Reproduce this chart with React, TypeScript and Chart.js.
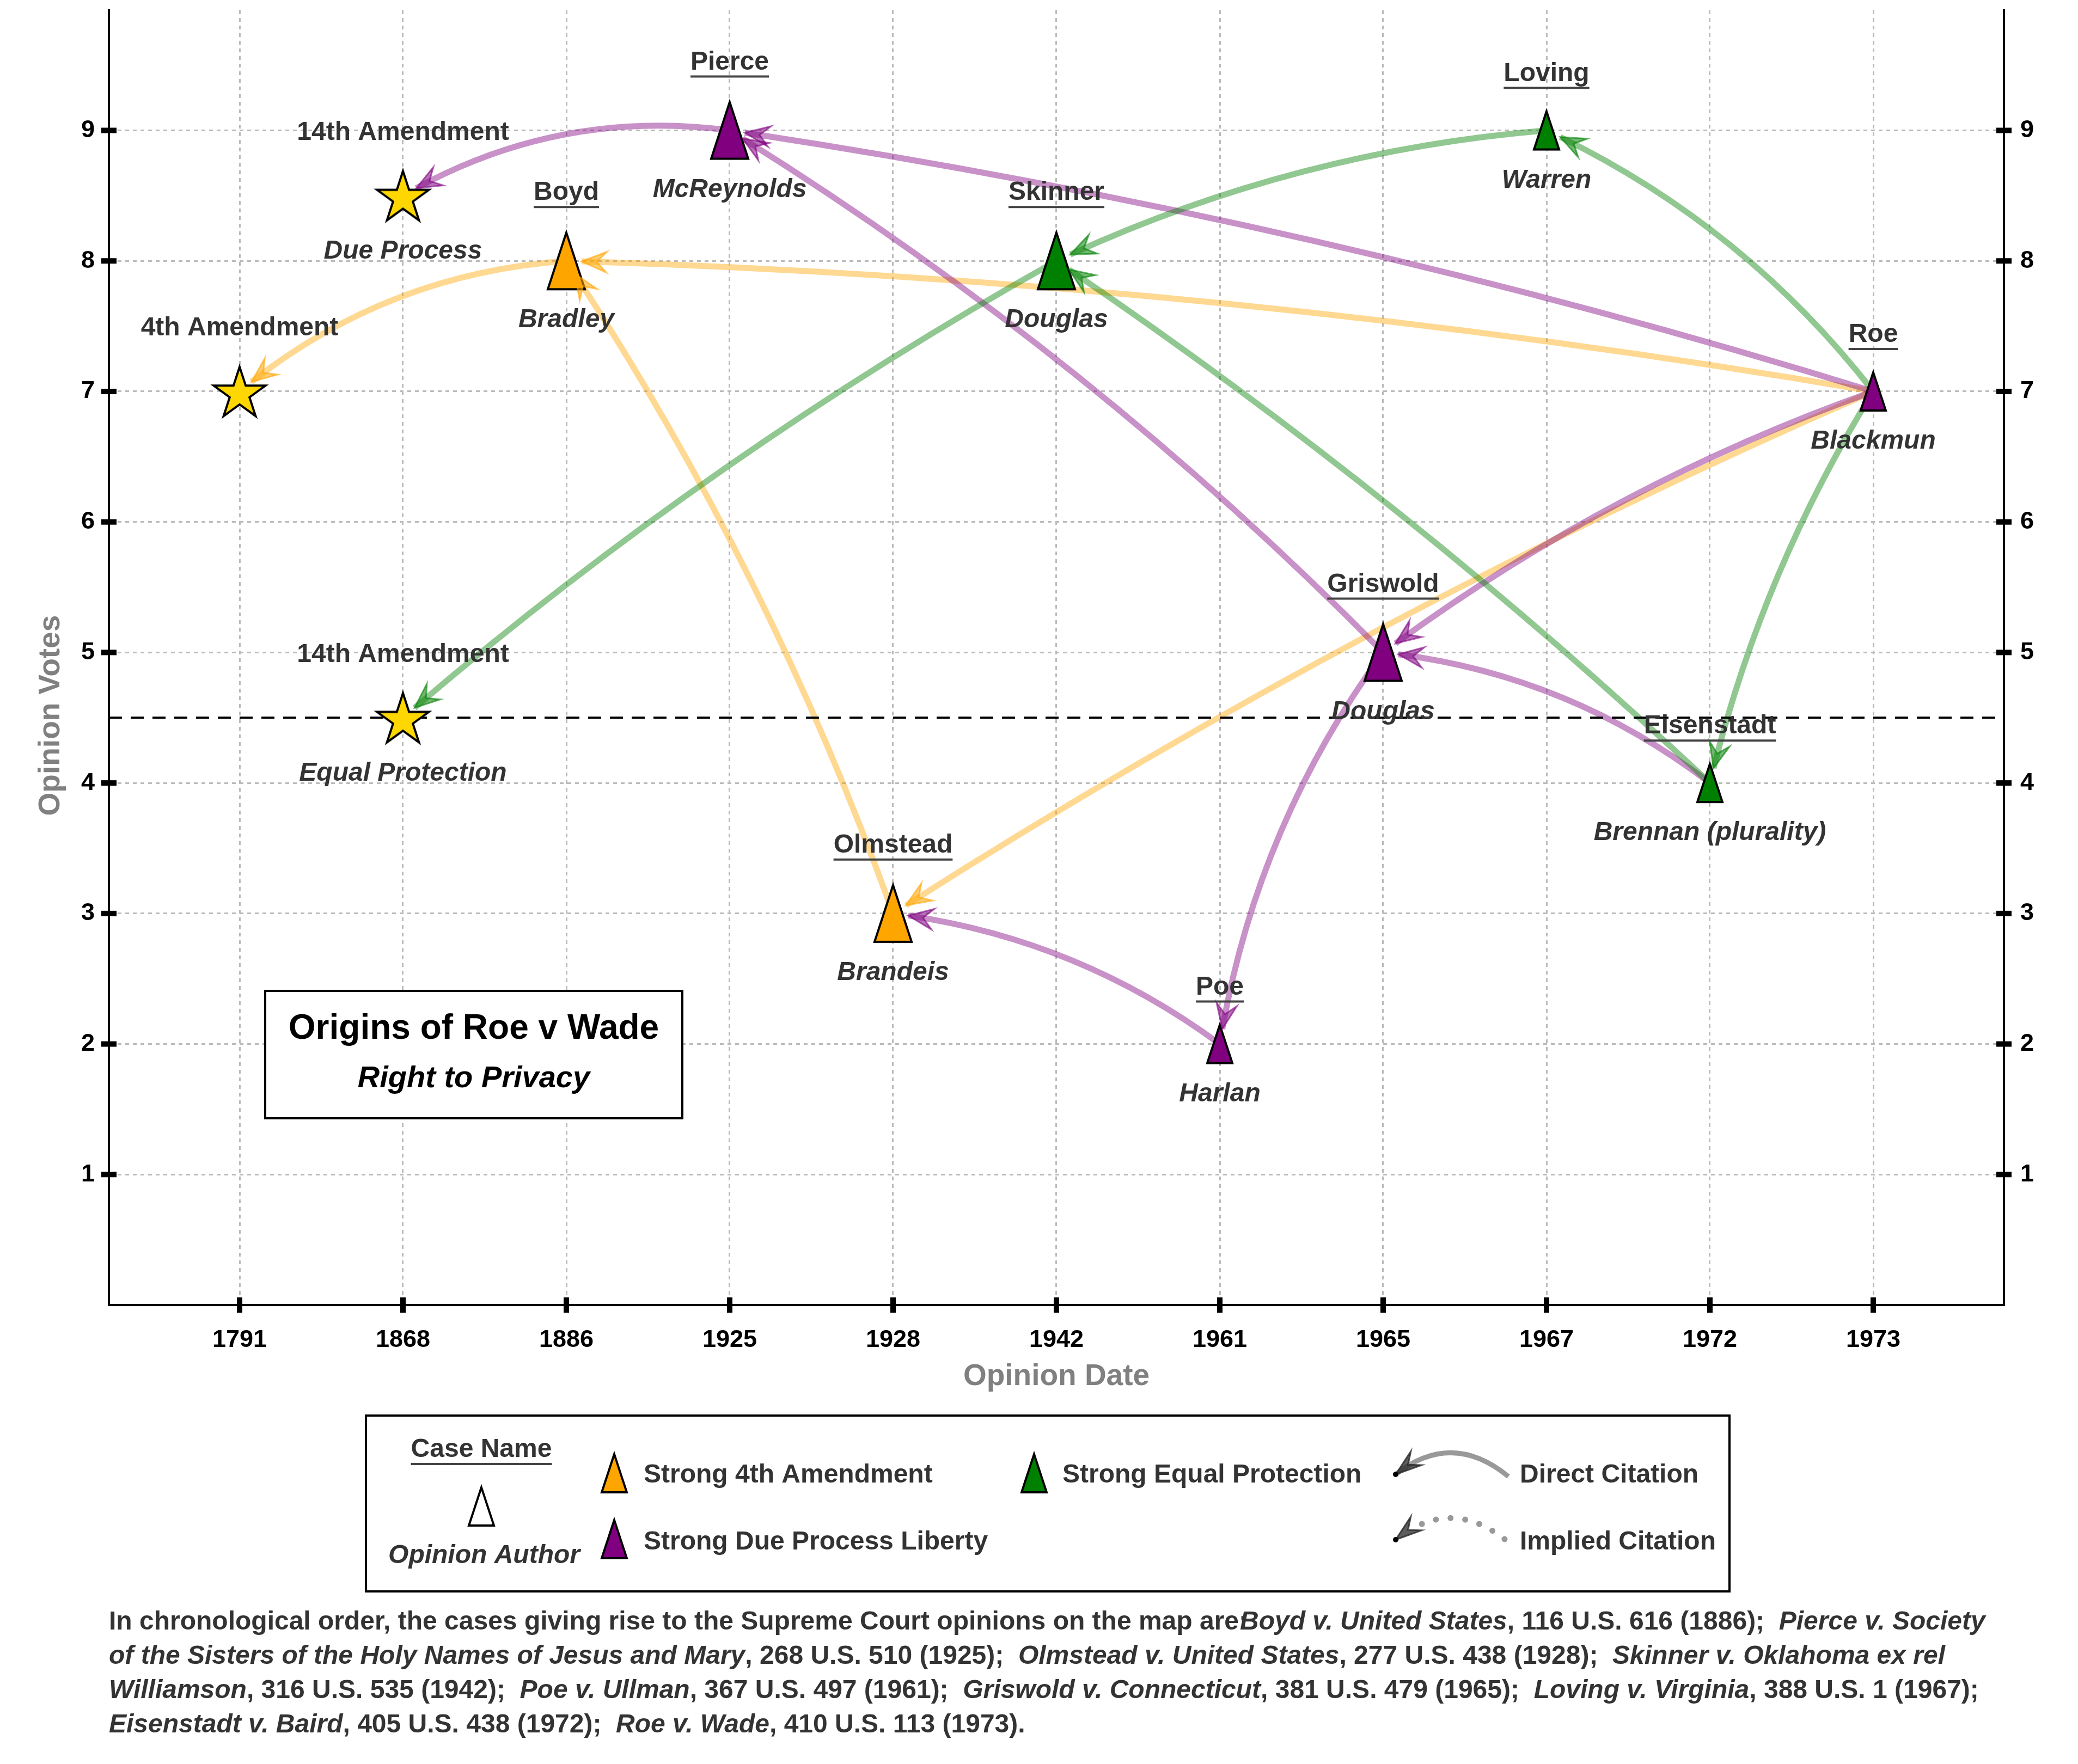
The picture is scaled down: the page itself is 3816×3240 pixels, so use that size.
import React, { useEffect, useRef } from 'react';
import { Chart, registerables } from 'chart.js';

Chart.register(...registerables);

const FONT = '"Liberation Sans", Arial, Helvetica, sans-serif';
const W = 3816;
const H = 3240;

// ---------------- data ----------------
const YEARS = ['1791', '1868', '1886', '1925', '1928', '1942', '1961', '1965', '1967', '1972', '1973'];
const VOTE_TICKS = [1, 2, 3, 4, 5, 6, 7, 8, 9];

const SOURCE_IDS = ['4A', '14A-DP', '14A-EP'];
const SOURCE_NAMES = ['4th Amendment', '14th Amendment', '14th Amendment'];
const SOURCE_CLAUSES = ['', 'Due Process', 'Equal Protection'];
const SOURCE_YEARS = ['1791', '1868', '1868'];
const SOURCE_VOTES = [7, 8.5, 4.5];

const CASE_NAMES = ['Boyd', 'Pierce', 'Olmstead', 'Skinner', 'Poe', 'Griswold', 'Loving', 'Eisenstadt', 'Roe'];
const CASE_YEARS = ['1886', '1925', '1928', '1942', '1961', '1965', '1967', '1972', '1973'];
const CASE_VOTES = [8, 9, 3, 8, 2, 5, 9, 4, 7];
const CASE_AUTHORS = ['Bradley', 'McReynolds', 'Brandeis', 'Douglas', 'Harlan', 'Douglas', 'Warren', 'Brennan (plurality)', 'Blackmun'];
const CASE_DOCTRINES = ['fourth', 'due', 'fourth', 'equal', 'due', 'due', 'equal', 'equal', 'due'];

const CITE_FROM = ['Roe', 'Boyd', 'Olmstead', 'Roe', 'Pierce', 'Roe', 'Griswold', 'Roe', 'Eisenstadt', 'Griswold', 'Poe', 'Skinner', 'Loving', 'Roe', 'Eisenstadt', 'Roe'];
const CITE_TO = ['Boyd', '4A', 'Boyd', 'Olmstead', '14A-DP', 'Pierce', 'Pierce', 'Griswold', 'Griswold', 'Poe', 'Olmstead', '14A-EP', 'Skinner', 'Loving', 'Skinner', 'Eisenstadt'];
const CITE_DOCTRINES = ['fourth', 'fourth', 'fourth', 'fourth', 'due', 'due', 'due', 'due', 'due', 'due', 'due', 'equal', 'equal', 'equal', 'equal', 'equal'];

const MAJORITY_LINE = 4.5;

const TITLE_TEXT = 'Origins of Roe v Wade';
const SUBTITLE_TEXT = 'Right to Privacy';
const X_TITLE = 'Opinion Date';
const Y_TITLE = 'Opinion Votes';

const LEGEND_LABELS = ['Case Name', 'Opinion Author', 'Strong 4th Amendment', 'Strong Due Process Liberty', 'Strong Equal Protection', 'Direct Citation', 'Implied Citation'];

const FOOTNOTE_LINES: [string, boolean][][] = [
  [
    ['In chronological order, the cases giving rise to the Supreme Court opinions on the map are:', false],
    ['Boyd v. United States', true],
    [', 116 U.S. 616 (1886);  ', false],
    ['Pierce v. Society', true],
  ],
  [
    ['of the Sisters of the Holy Names of Jesus and Mary', true],
    [', 268 U.S. 510 (1925);  ', false],
    ['Olmstead v. United States', true],
    [', 277 U.S. 438 (1928);  ', false],
    ['Skinner v. Oklahoma ex rel', true],
  ],
  [
    ['Williamson', true],
    [', 316 U.S. 535 (1942);  ', false],
    ['Poe v. Ullman', true],
    [', 367 U.S. 497 (1961);  ', false],
    ['Griswold v. Connecticut', true],
    [', 381 U.S. 479 (1965);  ', false],
    ['Loving v. Virginia', true],
    [', 388 U.S. 1 (1967);', false],
  ],
  [
    ['Eisenstadt v. Baird', true],
    [', 405 U.S. 438 (1972);  ', false],
    ['Roe v. Wade', true],
    [', 410 U.S. 113 (1973).', false],
  ],
];

// ---------------- styles ----------------
const X_MIN = -0.8;
const X_MAX = 10.8;
const Y_MIN = 0;
const Y_MAX = 9.92;
const CITE_BEND = [-0.035, -0.16, -0.06, -0.04, -0.17, -0.038, -0.06, -0.075, -0.14, -0.12, -0.13, -0.05, -0.09, -0.12, -0.04, -0.08];
const LARGE_MARKERS = ['Boyd', 'Pierce', 'Olmstead', 'Skinner', 'Griswold'];
const COLORS: Record<string, number[]> = { fourth: [255, 165, 0], due: [128, 0, 128], equal: [0, 128, 0] };
const TEXT_COLOR = '#333333';
const GRID_COLOR = '#bbbbbb';
const FOOTNOTE_FIRST_KERN = -14;

function rgba(c: number[], a: number) {
  return `rgba(${c[0]},${c[1]},${c[2]},${a})`;
}
function hex(c: number[]) {
  return rgba(c, 1);
}

function makeTriangle(fill: string, w: number, h: number) {
  const pad = 9;
  const c = document.createElement('canvas');
  c.width = Math.ceil(w + 2 * pad);
  c.height = Math.ceil(h + 2 * pad);
  const ctx = c.getContext('2d')!;
  const cx = c.width / 2;
  ctx.beginPath();
  ctx.moveTo(cx, pad);
  ctx.lineTo(cx + w / 2, pad + h);
  ctx.lineTo(cx - w / 2, pad + h);
  ctx.closePath();
  ctx.fillStyle = fill;
  ctx.fill();
  ctx.lineWidth = 4;
  ctx.lineJoin = 'miter';
  ctx.strokeStyle = '#000';
  ctx.stroke();
  return c;
}

function makeStar(fill: string, R: number) {
  const pad = 12;
  const size = Math.ceil(2 * R + 2 * pad);
  const c = document.createElement('canvas');
  c.width = size;
  c.height = size;
  const ctx = c.getContext('2d')!;
  const r = R * 0.381966;
  const cx = size / 2;
  const cy = size / 2 + 0.0955 * R;
  ctx.beginPath();
  for (let k = 0; k < 10; k++) {
    const ang = -Math.PI / 2 + (k * Math.PI) / 5;
    const rr = k % 2 === 0 ? R : r;
    const x = cx + rr * Math.cos(ang);
    const y = cy + rr * Math.sin(ang);
    if (k === 0) ctx.moveTo(x, y);
    else ctx.lineTo(x, y);
  }
  ctx.closePath();
  ctx.fillStyle = fill;
  ctx.fill();
  ctx.lineWidth = 4;
  ctx.lineJoin = 'miter';
  ctx.strokeStyle = '#000';
  ctx.stroke();
  return c;
}

type Pt = { x: number; y: number };

function nodeValue(id: string) {
  const i = CASE_NAMES.indexOf(id);
  if (i >= 0) return { xi: YEARS.indexOf(CASE_YEARS[i]), v: CASE_VOTES[i] };
  const j = SOURCE_IDS.indexOf(id);
  return { xi: YEARS.indexOf(SOURCE_YEARS[j]), v: SOURCE_VOTES[j] };
}

function nodePixel(chart: any, id: string): Pt {
  const n = nodeValue(id);
  return { x: chart.scales.x.getPixelForValue(n.xi), y: chart.scales.y.getPixelForValue(n.v) };
}

function quad(p0: Pt, c: Pt, p2: Pt, t: number): Pt {
  const m = 1 - t;
  return { x: m * m * p0.x + 2 * m * t * c.x + t * t * p2.x, y: m * m * p0.y + 2 * m * t * c.y + t * t * p2.y };
}

function citationGeom(p0: Pt, p2: Pt, bend: number, shrink: number) {
  const dx = p2.x - p0.x;
  const dy = p2.y - p0.y;
  const c = { x: (p0.x + p2.x) / 2 + bend * dy, y: (p0.y + p2.y) / 2 - bend * dx };
  let lo = 0;
  let hi = 1;
  for (let k = 0; k < 40; k++) {
    const m = (lo + hi) / 2;
    const q = quad(p0, c, p2, m);
    if (Math.hypot(q.x - p2.x, q.y - p2.y) > shrink) lo = m;
    else hi = m;
  }
  const t = lo;
  const q1 = { x: p0.x + t * (c.x - p0.x), y: p0.y + t * (c.y - p0.y) };
  const tip = quad(p0, c, p2, t);
  const tx = 2 * (1 - t) * (c.x - p0.x) + 2 * t * (p2.x - c.x);
  const ty = 2 * (1 - t) * (c.y - p0.y) + 2 * t * (p2.y - c.y);
  const len = Math.hypot(tx, ty) || 1;
  return { c, q1, tip, ux: tx / len, uy: ty / len };
}

function drawHead(ctx: CanvasRenderingContext2D, tip: Pt, ux: number, uy: number, fill: string, stroke: string, L: number, Wd: number) {
  const nx = -uy;
  const ny = ux;
  const bx = tip.x - ux * L;
  const by = tip.y - uy * L;
  const kx = tip.x - ux * L * 0.6;
  const ky = tip.y - uy * L * 0.6;
  ctx.beginPath();
  ctx.moveTo(tip.x, tip.y);
  ctx.lineTo(bx + nx * Wd, by + ny * Wd);
  ctx.lineTo(kx, ky);
  ctx.lineTo(bx - nx * Wd, by - ny * Wd);
  ctx.closePath();
  ctx.fillStyle = fill;
  ctx.fill();
  ctx.lineWidth = 3;
  ctx.lineJoin = 'miter';
  ctx.strokeStyle = stroke;
  ctx.stroke();
}

function underlinedText(ctx: CanvasRenderingContext2D, text: string, x: number, y: number) {
  ctx.font = `bold 48px ${FONT}`;
  ctx.textAlign = 'center';
  ctx.textBaseline = 'middle';
  ctx.fillStyle = TEXT_COLOR;
  ctx.fillText(text, x, y);
  const w = ctx.measureText(text).width;
  ctx.beginPath();
  ctx.moveTo(x - w / 2, y + 26);
  ctx.lineTo(x + w / 2, y + 26);
  ctx.lineWidth = 4;
  ctx.strokeStyle = '#444';
  ctx.stroke();
}

function plainText(ctx: CanvasRenderingContext2D, text: string, x: number, y: number, italic: boolean, align: CanvasTextAlign = 'center', size = 48, color = TEXT_COLOR) {
  ctx.font = `${italic ? 'italic ' : ''}bold ${size}px ${FONT}`;
  ctx.textAlign = align;
  ctx.textBaseline = 'middle';
  ctx.fillStyle = color;
  ctx.fillText(text, x, y);
}

export default function App() {
  const ref = useRef<HTMLCanvasElement>(null);

  useEffect(() => {
    document.body.style.margin = '0';
    const canvas = ref.current!;

    const triBig: Record<string, HTMLCanvasElement> = {};
    const triSmall: Record<string, HTMLCanvasElement> = {};
    Object.keys(COLORS).forEach((k) => {
      triBig[k] = makeTriangle(hex(COLORS[k]), 68, 104);
      triSmall[k] = makeTriangle(hex(COLORS[k]), 46, 70);
    });
    const triWhite = makeTriangle('#ffffff', 46, 70);
    const star = makeStar('#FFD700', 50);

    const caseData = CASE_NAMES.map((_, i) => ({ x: YEARS.indexOf(CASE_YEARS[i]), y: CASE_VOTES[i] }));
    const sourceData = SOURCE_IDS.map((_, i) => ({ x: YEARS.indexOf(SOURCE_YEARS[i]), y: SOURCE_VOTES[i] }));
    const caseStyles = CASE_NAMES.map((n, i) => (LARGE_MARKERS.includes(n) ? triBig : triSmall)[CASE_DOCTRINES[i]]);

    const geomFor = (chart: any) =>
      CITE_FROM.map((f, i) => {
        const p0 = nodePixel(chart, f);
        const p2 = nodePixel(chart, CITE_TO[i]);
        return { p0, ...citationGeom(p0, p2, CITE_BEND[i], 28), color: COLORS[CITE_DOCTRINES[i]] };
      });

    const overlay = {
      id: 'overlay',
      beforeDatasetsDraw(chart: any) {
        const ctx: CanvasRenderingContext2D = chart.ctx;
        ctx.save();
        geomFor(chart).forEach((g) => {
          ctx.beginPath();
          ctx.moveTo(g.p0.x, g.p0.y);
          ctx.quadraticCurveTo(g.q1.x, g.q1.y, g.tip.x, g.tip.y);
          ctx.lineWidth = 11;
          ctx.lineCap = 'butt';
          ctx.strokeStyle = rgba(g.color, 0.43);
          ctx.stroke();
        });
        ctx.restore();
      },
      afterDatasetsDraw(chart: any) {
        const ctx: CanvasRenderingContext2D = chart.ctx;
        const xs = chart.scales.x;
        const ys = chart.scales.y;
        const ca = chart.chartArea;
        ctx.save();
        geomFor(chart).forEach((g) => {
          drawHead(ctx, g.tip, g.ux, g.uy, rgba(g.color, 0.55), rgba(g.color, 0.6), 46, 19);
        });

        // case labels
        CASE_NAMES.forEach((name, i) => {
          const px = xs.getPixelForValue(YEARS.indexOf(CASE_YEARS[i]));
          const py = ys.getPixelForValue(CASE_VOTES[i]);
          const big = LARGE_MARKERS.includes(name);
          underlinedText(ctx, name, px, py - (big ? 125 : 104));
          plainText(ctx, CASE_AUTHORS[i], px, py + (big ? 109 : 92), true);
        });
        // source labels
        SOURCE_IDS.forEach((_, i) => {
          const px = xs.getPixelForValue(YEARS.indexOf(SOURCE_YEARS[i]));
          const py = ys.getPixelForValue(SOURCE_VOTES[i]);
          plainText(ctx, SOURCE_NAMES[i], px, py - 116, false);
          if (SOURCE_CLAUSES[i]) plainText(ctx, SOURCE_CLAUSES[i], px, py + 102, true);
        });

        // title box
        const bx = ca.left + 287;
        const by = ca.top + 1801;
        const bw = 766;
        const bh = 234;
        ctx.fillStyle = '#fff';
        ctx.fillRect(bx, by, bw, bh);
        ctx.lineWidth = 4;
        ctx.strokeStyle = '#000';
        ctx.strokeRect(bx, by, bw, bh);
        plainText(ctx, TITLE_TEXT, bx + bw / 2, by + 70, false, 'center', 64, '#000');
        plainText(ctx, SUBTITLE_TEXT, bx + bw / 2, by + 162, true, 'center', 56, '#000');
        ctx.restore();
      },
      afterDraw(chart: any) {
        const ctx: CanvasRenderingContext2D = chart.ctx;
        const ca = chart.chartArea;
        const xs = chart.scales.x;
        const ys = chart.scales.y;
        ctx.save();
        // tick marks
        ctx.fillStyle = '#000';
        xs.ticks.forEach((t: any) => {
          const px = xs.getPixelForValue(t.value);
          ctx.fillRect(px - 5, ca.bottom - 14, 10, 28);
        });
        ys.ticks.forEach((t: any) => {
          const py = ys.getPixelForValue(t.value);
          ctx.fillRect(ca.left - 14, py - 5, 28, 10);
          ctx.fillRect(ca.right - 14, py - 5, 28, 10);
        });

        // y title
        ctx.save();
        ctx.translate(94, ca.top + 0.5446 * (ca.bottom - ca.top));
        ctx.rotate(-Math.PI / 2);
        plainText(ctx, Y_TITLE, 0, 0, false, 'center', 55, 'gray');
        ctx.restore();

        // legend
        const lx = 672;
        const ly = 2600;
        ctx.fillStyle = '#fff';
        ctx.fillRect(lx, ly, 2504, 323);
        ctx.lineWidth = 4;
        ctx.strokeStyle = '#000';
        ctx.strokeRect(lx, ly, 2504, 323);
        underlinedText(ctx, LEGEND_LABELS[0], 884, 2663);
        ctx.drawImage(triWhite, 884 - triWhite.width / 2, 2767 - triWhite.height / 2);
        plainText(ctx, LEGEND_LABELS[1], 889, 2858, true);
        ctx.drawImage(triSmall.fourth, 1128 - triSmall.fourth.width / 2, 2706 - triSmall.fourth.height / 2);
        plainText(ctx, LEGEND_LABELS[2], 1182, 2710, false, 'left');
        ctx.drawImage(triSmall.due, 1128 - triSmall.due.width / 2, 2827 - triSmall.due.height / 2);
        plainText(ctx, LEGEND_LABELS[3], 1182, 2833, false, 'left');
        ctx.drawImage(triSmall.equal, 1899 - triSmall.equal.width / 2, 2706 - triSmall.equal.height / 2);
        plainText(ctx, LEGEND_LABELS[4], 1951, 2710, false, 'left');

        // direct citation icon
        {
          const p0 = { x: 2770, y: 2712 };
          const p2 = { x: 2563, y: 2708 };
          const c = { x: 2666, y: 2627 };
          ctx.beginPath();
          ctx.moveTo(p0.x, p0.y);
          ctx.quadraticCurveTo(c.x, c.y, p2.x, p2.y);
          ctx.lineWidth = 9;
          ctx.strokeStyle = '#999';
          ctx.stroke();
          const ux = p2.x - c.x;
          const uy = p2.y - c.y;
          const l = Math.hypot(ux, uy);
          drawHead(ctx, p2, ux / l, uy / l, 'rgba(40,40,40,0.75)', 'rgba(40,40,40,0.8)', 48, 16);
          ctx.beginPath();
          ctx.arc(p2.x, p2.y, 5, 0, Math.PI * 2);
          ctx.fillStyle = '#000';
          ctx.fill();
        }
        plainText(ctx, LEGEND_LABELS[5], 2791, 2710, false, 'left');
        // implied citation icon
        {
          const p0 = { x: 2763, y: 2827 };
          const p2 = { x: 2563, y: 2828 };
          const c = { x: 2663, y: 2749 };
          const tEnd = 0.82;
          const q1 = { x: p0.x + tEnd * (c.x - p0.x), y: p0.y + tEnd * (c.y - p0.y) };
          const qe = quad(p0, c, p2, tEnd);
          ctx.beginPath();
          ctx.moveTo(p0.x, p0.y);
          ctx.quadraticCurveTo(q1.x, q1.y, qe.x, qe.y);
          ctx.lineWidth = 11;
          ctx.lineCap = 'round';
          ctx.setLineDash([0.1, 27]);
          ctx.strokeStyle = '#999';
          ctx.stroke();
          ctx.setLineDash([]);
          ctx.lineCap = 'butt';
          const ux = p2.x - c.x;
          const uy = p2.y - c.y;
          const l = Math.hypot(ux, uy);
          drawHead(ctx, p2, ux / l, uy / l, 'rgba(40,40,40,0.75)', 'rgba(40,40,40,0.8)', 48, 16);
          ctx.beginPath();
          ctx.arc(p2.x, p2.y, 5, 0, Math.PI * 2);
          ctx.fillStyle = '#000';
          ctx.fill();
        }
        plainText(ctx, LEGEND_LABELS[6], 2791, 2833, false, 'left');

        // footnote
        FOOTNOTE_LINES.forEach((line, li) => {
          let x = 200;
          const y = 2980 + li * 63;
          line.forEach(([txt, it], si) => {
            ctx.font = `${it ? 'italic ' : ''}bold 48px ${FONT}`;
            ctx.textAlign = 'left';
            ctx.textBaseline = 'middle';
            ctx.fillStyle = TEXT_COLOR;
            ctx.fillText(txt, x, y);
            x += ctx.measureText(txt).width;
            if (li === 0 && si === 0) x += FOOTNOTE_FIRST_KERN;
          });
        });
        ctx.restore();
      },
    };

    const tickFont = { family: FONT, size: 45, weight: 'bold' as const };

    const chart = new Chart(canvas, {
      type: 'scatter',
      data: {
        datasets: [
          {
            type: 'line',
            label: 'majority',
            data: [
              { x: X_MIN, y: MAJORITY_LINE },
              { x: X_MAX, y: MAJORITY_LINE },
            ],
            borderColor: '#000',
            borderWidth: 4,
            borderDash: [24, 16],
            pointRadius: 0,
            showLine: true,
            fill: false,
            order: 3,
          } as any,
          {
            label: 'cases',
            data: caseData,
            pointStyle: caseStyles as any,
            pointRadius: 30,
            order: 1,
          },
          {
            label: 'sources',
            data: sourceData,
            pointStyle: star as any,
            pointRadius: 30,
            order: 2,
          },
        ],
      },
      options: {
        responsive: false,
        animation: false,
        events: [],
        devicePixelRatio: 1,
        layout: { autoPadding: false, padding: { top: 19, left: 0, right: 0, bottom: 663 } },
        plugins: { legend: { display: false }, tooltip: { enabled: false }, title: { display: false } },
        scales: {
          x: {
            type: 'linear',
            position: 'bottom',
            min: X_MIN,
            max: X_MAX,
            afterBuildTicks: (s: any) => {
              s.ticks = YEARS.map((_, i) => ({ value: i }));
            },
            afterFit: (s: any) => {
              s.height = 180;
              s.paddingLeft = 0;
              s.paddingRight = 0;
            },
            ticks: {
              autoSkip: false,
              maxRotation: 0,
              minRotation: 0,
              padding: 38,
              color: '#000',
              font: tickFont,
              callback: (v: any) => YEARS[Math.round(Number(v))] ?? '',
            },
            grid: { color: GRID_COLOR, lineWidth: 3, drawTicks: false },
            border: { display: true, color: '#000', width: 4, dash: [7, 7] },
            title: {
              display: true,
              text: X_TITLE,
              color: 'gray',
              font: { family: FONT, size: 55, weight: 'bold' },
              padding: { top: 0, bottom: 15 },
            },
          },
          y: {
            type: 'linear',
            position: 'left',
            min: Y_MIN,
            max: Y_MAX,
            afterBuildTicks: (s: any) => {
              s.ticks = VOTE_TICKS.map((v) => ({ value: v }));
            },
            afterFit: (s: any) => {
              s.width = 200;
              s.paddingTop = 0;
              s.paddingBottom = 0;
            },
            ticks: { padding: 26, color: '#000', font: tickFont, callback: (v: any) => String(v) },
            grid: { color: GRID_COLOR, lineWidth: 3, drawTicks: false },
            border: { display: true, color: '#000', width: 4, dash: [7, 7] },
          },
          y2: {
            type: 'linear',
            position: 'right',
            min: Y_MIN,
            max: Y_MAX,
            afterBuildTicks: (s: any) => {
              s.ticks = VOTE_TICKS.map((v) => ({ value: v }));
            },
            afterFit: (s: any) => {
              s.width = 136;
              s.paddingTop = 0;
              s.paddingBottom = 0;
            },
            ticks: { padding: 30, color: '#000', font: tickFont, callback: (v: any) => String(v) },
            grid: { drawOnChartArea: false, drawTicks: false },
            border: { display: true, color: '#000', width: 4 },
          },
        },
      } as any,
      plugins: [overlay],
    });

    return () => chart.destroy();
  }, []);

  return <canvas ref={ref} width={W} height={H} style={{ display: 'block', width: W, height: H }} />;
}
